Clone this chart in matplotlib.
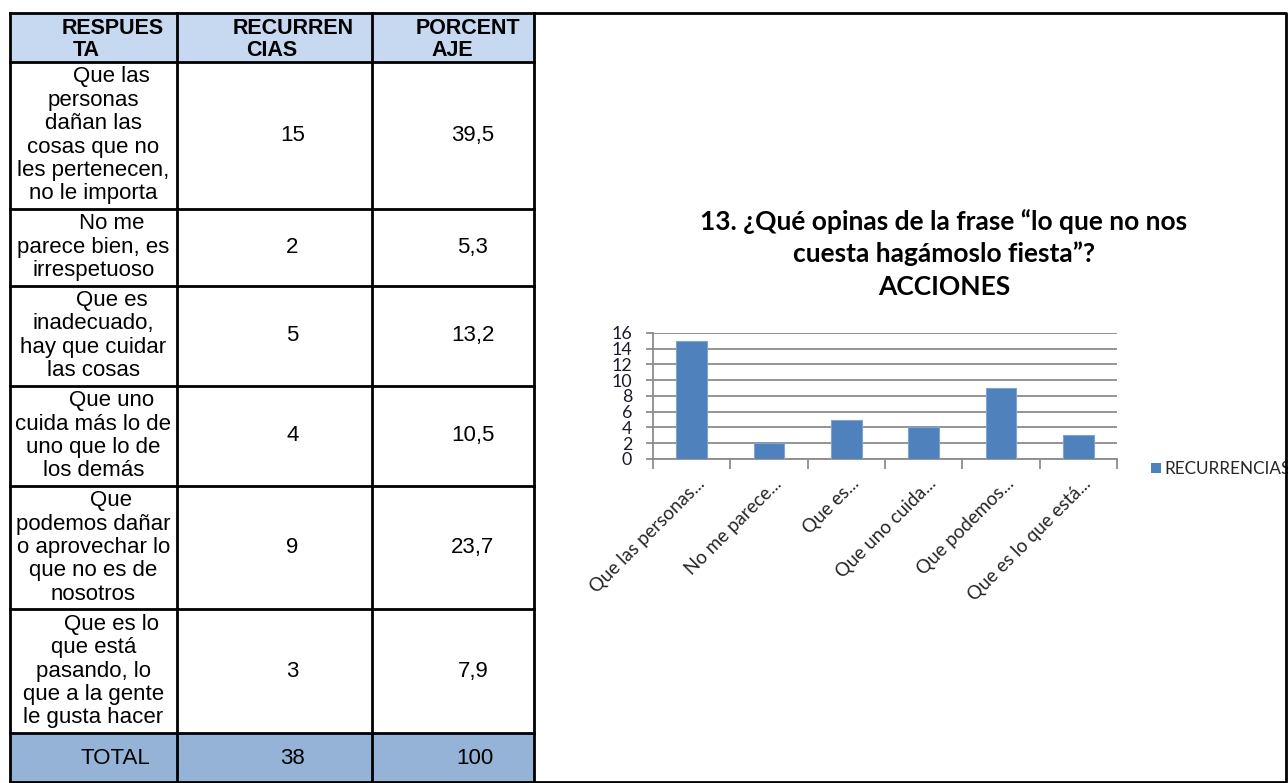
import matplotlib
matplotlib.use("Agg")
import matplotlib.pyplot as plt
from matplotlib.patches import Rectangle
import numpy as np

# ---------------- data ----------------
headers = ["RESPUES\nTA", "RECURREN\nCIAS", "PORCENT\nAJE"]
respuestas = [
    "Que las\npersonas\ndañan las\ncosas que no\nles pertenecen,\nno le importa",
    "No me\nparece bien, es\nirrespetuoso",
    "Que es\ninadecuado,\nhay que cuidar\nlas cosas",
    "Que uno\ncuida más lo de\nuno que lo de\nlos demás",
    "Que\npodemos dañar\no aprovechar lo\nque no es de\nnosotros",
    "Que es lo\nque está\npasando, lo\nque a la gente\nle gusta hacer",
]
recurrencias = [15, 2, 5, 4, 9, 3]
porcentajes = ["39,5", "5,3", "13,2", "10,5", "23,7", "7,9"]
total_row = ["TOTAL", "38", "100"]

categorias = ["Que las personas...", "No me parece...", "Que es...",
              "Que uno cuida...", "Que podemos...", "Que es lo que está..."]
serie_nombre = "RECURRENCIAS"
titulo = "13. ¿Qué opinas de la frase “lo que no nos\ncuesta hagámoslo fiesta”?\nACCIONES"
yticks = [0, 2, 4, 6, 8, 10, 12, 14, 16]

# ---------------- figure ----------------
W, H = 1288, 783
fig = plt.figure(figsize=(W / 100, H / 100), dpi=100)
fig.patch.set_facecolor("white")

ax0 = fig.add_axes([0, 0, 1, 1])
ax0.set_xlim(0, W)
ax0.set_ylim(H, 0)
ax0.axis("off")
ax0.set_zorder(0)

TFONT = "Liberation Sans"
TSIZE = 16
LINE = 23.4
col_x = [10, 177, 372, 534]
col_c = [(col_x[i] + col_x[i + 1]) / 2 for i in range(3)]
indent = 18

# header
top = 13
hdr_bot = 62
for i in range(3):
    ax0.add_patch(Rectangle((col_x[i], top), col_x[i + 1] - col_x[i], hdr_bot - top,
                            facecolor="#C6D9F1", edgecolor="none", zorder=1))
hdr_centers = [(113, 86), (293, 272), (468, 452)]
for i, h in enumerate(headers):
    l1, l2 = h.split("\n")
    ax0.text(hdr_centers[i][0], 28, l1, ha="center", va="center", fontsize=15.5,
             fontweight="bold", family=TFONT, zorder=3)
    ax0.text(hdr_centers[i][1], 50, l2, ha="center", va="center", fontsize=15.5,
             fontweight="bold", family=TFONT, zorder=3)

# body rows
y = hdr_bot
row_edges = [y]
for k, resp in enumerate(respuestas):
    lines = resp.split("\n")
    n = len(lines)
    h = n * LINE + 6.5
    yc = y + h / 2
    for j, ln in enumerate(lines):
        xx = col_c[0] + (indent if j == 0 else 0)
        ax0.text(xx, yc + (j - (n - 1) / 2) * LINE, ln, ha="center", va="center",
                 fontsize=TSIZE, family=TFONT, zorder=3)
    ax0.text(col_c[1] + indent, yc, str(recurrencias[k]), ha="center", va="center",
             fontsize=TSIZE, family=TFONT, zorder=3)
    ax0.text(col_c[2] + indent + 2, yc, porcentajes[k], ha="center", va="center",
             fontsize=TSIZE, family=TFONT, zorder=3)
    y += h
    row_edges.append(y)

# total row
tot_top = y
tot_bot = 782
for i in range(3):
    ax0.add_patch(Rectangle((col_x[i], tot_top), col_x[i + 1] - col_x[i], tot_bot - tot_top,
                            facecolor="#95B3D7", edgecolor="none", zorder=1))
    ax0.text(col_c[i] + indent + (4 if i != 1 else 0), (tot_top + tot_bot) / 2 + 1,
             total_row[i], ha="center", va="center", fontsize=TSIZE, family=TFONT, zorder=3)
row_edges.append(tot_bot)

# grid lines of table
lw = 2.0
for yy in [top, hdr_bot] + row_edges[1:]:
    ax0.plot([col_x[0], col_x[-1]], [yy, yy], color="black", lw=lw, zorder=4,
             solid_capstyle="projecting")
for xx in col_x:
    ax0.plot([xx, xx], [top, tot_bot], color="black", lw=lw, zorder=4)

# outer border of chart region
ax0.plot([col_x[-1], 1286, 1286, col_x[-1]], [top, top, tot_bot, tot_bot],
         color="black", lw=lw, zorder=6)

# title
CFONT = "Lato"
tl = titulo.split("\n")
for j, t in enumerate(tl):
    ax0.text(944, 230 + j * 32.5, t, ha="center", va="baseline", fontsize=19,
             fontweight="bold", family=CFONT, zorder=3)

# legend
ax0.add_patch(Rectangle((1151, 463), 10, 10, facecolor="#4F81BD", edgecolor="none", zorder=3))
ax0.text(1164, 469, serie_nombre, ha="left", va="center", fontsize=12.3,
         family=CFONT, color="#262626", zorder=3)

# ---------------- chart ----------------
pl, pr, pt, pb = 653, 1117, 333, 459
ax = fig.add_axes([pl / W, 1 - pb / H, (pr - pl) / W, (pb - pt) / H])
ax.set_zorder(1)
ax.patch.set_alpha(0)
x = np.arange(len(categorias))
ax.bar(x, recurrencias, width=0.4, color="#4F81BD", edgecolor="#7FA3D0", linewidth=0.8,
       zorder=3)
ax.set_xlim(-0.5, len(categorias) - 0.5)
ax.set_ylim(0, 16)
ax.set_yticks(yticks)
ax.set_yticklabels([str(v) for v in yticks], family=CFONT, fontsize=12.8, color="#1a1a2a")
ax.yaxis.grid(True, color="#8C8C8C", lw=1.3, zorder=0)
ax.set_axisbelow(True)
for s in ["top", "right"]:
    ax.spines[s].set_visible(False)
for s in ["left", "bottom"]:
    ax.spines[s].set_color("#8C8C8C")
    ax.spines[s].set_linewidth(1.3)
ax.tick_params(axis="y", direction="out", length=5, width=1.3, color="#8C8C8C", pad=10)
ax.set_xticks(np.arange(-0.5, len(categorias), 1.0))
ax.set_xticklabels([])
ax.tick_params(axis="x", direction="out", length=7, width=1.3, color="#8C8C8C")
for i, c in enumerate(categorias):
    ax.annotate(c, xy=(i, 0), xycoords=("data", "axes fraction"),
                xytext=(10, -22), textcoords="offset pixels",
                rotation=45, rotation_mode="anchor", ha="right", va="center",
                fontsize=13.5, family=CFONT, color="#262626")

fig.savefig("out.png", dpi=100)
